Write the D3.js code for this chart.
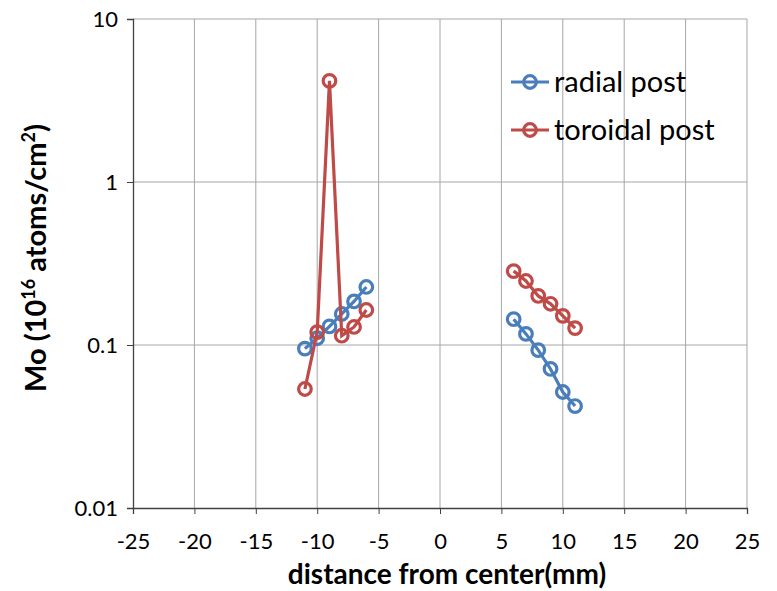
<!DOCTYPE html>
<html><head><meta charset="utf-8">
<script src="https://cdn.jsdelivr.net/npm/d3@7"></script>
<style>body{margin:0;background:#fff}svg{display:block}text{font-family:Lato,"Open Sans",sans-serif}</style>
</head><body><svg id="c" width="777" height="591"></svg>
<script>
const xValues = [-11, -10, -9, -8, -7, -6, 6, 7, 8, 9, 10, 11];
const radialPost = [0.095, 0.11, 0.13, 0.155, 0.185, 0.227, 0.144, 0.117, 0.093, 0.0713, 0.0515, 0.0422];
const toroidalPost = [0.0537, 0.12, 4.17, 0.114, 0.129, 0.164, 0.284, 0.247, 0.2, 0.179, 0.151, 0.127];
const seriesNames = ["radial post", "toroidal post"];
const seriesColors = ["#4A7EBB", "#BE4B48"];
const xTicks = [-25, -20, -15, -10, -5, 0, 5, 10, 15, 20, 25];
const yTicks = [0.01, 0.1, 1, 10];

const svg = d3.select("#c");
const L = 133, R = 747, T = 19, B = 508;
const x = d3.scaleLinear().domain([-25, 25]).range([L, R]);
const y = d3.scaleLog().domain([0.01, 10]).range([B, T]);

// grid
svg.append("g").selectAll("line").data(xTicks.filter(d => d !== -25)).join("line")
  .attr("x1", d => x(d)).attr("x2", d => x(d)).attr("y1", T).attr("y2", B)
  .attr("stroke", "#a6a6a6").attr("stroke-width", 1);
svg.append("g").selectAll("line").data(yTicks.filter(d => d !== 0.01)).join("line")
  .attr("x1", L).attr("x2", R).attr("y1", d => y(d)).attr("y2", d => y(d))
  .attr("stroke", "#a6a6a6").attr("stroke-width", 1);

// axes
const xAxis = d3.axisBottom(x).tickValues(xTicks).tickSize(6).tickPadding(19).tickFormat(d => String(d));
const gx = svg.append("g").attr("transform", `translate(0,${B})`).call(xAxis);
gx.select(".domain").attr("stroke", "#404040").attr("stroke-width", 1.3);
gx.selectAll(".tick line").attr("stroke", "#404040");
gx.selectAll("text").attr("font-size", 22).attr("fill", "#000").attr("font-family", "Lato, 'Open Sans', sans-serif");

const yAxis = d3.axisLeft(y).tickValues(yTicks).tickSize(6).tickPadding(9).tickFormat(d => String(d));
const gy = svg.append("g").attr("transform", `translate(${L},0)`).call(yAxis);
gy.select(".domain").attr("stroke", "#404040").attr("stroke-width", 1.3);
gy.selectAll(".tick line").attr("stroke", "#404040");
gy.selectAll("text").attr("font-size", 22).attr("fill", "#000").attr("font-family", "Lato, 'Open Sans', sans-serif");

// series
const series = [radialPost, toroidalPost];
series.forEach((vals, si) => {
  const pts = xValues.map((xv, i) => ({x: xv, y: vals[i]}));
  const segs = [pts.filter(p => p.x < 0), pts.filter(p => p.x > 0)];
  const line = d3.line().x(d => x(d.x)).y(d => y(d.y));
  const g = svg.append("g");
  segs.forEach(s => g.append("path").attr("d", line(s)).attr("fill", "none")
    .attr("stroke", seriesColors[si]).attr("stroke-width", 3.2));
  g.selectAll("circle").data(pts).join("circle")
    .attr("cx", d => x(d.x)).attr("cy", d => y(d.y)).attr("r", 6.3)
    .attr("fill", "none").attr("stroke", seriesColors[si]).attr("stroke-width", 3.2);
});

// legend
seriesNames.forEach((n, i) => {
  const ly = 82 + i * 48;
  const g = svg.append("g");
  g.append("line").attr("x1", 511).attr("x2", 549).attr("y1", ly).attr("y2", ly)
    .attr("stroke", seriesColors[i]).attr("stroke-width", 3.2);
  g.append("circle").attr("cx", 530).attr("cy", ly).attr("r", 6.3).attr("fill", "none")
    .attr("stroke", seriesColors[i]).attr("stroke-width", 3.2);
  g.append("text").attr("x", 554).attr("y", ly + 10).attr("font-size", 29).attr("fill", "#000").text(n);
});

// titles
svg.append("text").attr("x", (L + R) / 2 + 7).attr("y", 584).attr("text-anchor", "middle")
  .attr("font-size", 28).attr("font-weight", "bold").text("distance from center(mm)");
const yt = svg.append("text").attr("transform", `translate(46,258) rotate(-90)`)
  .attr("text-anchor", "middle").attr("font-size", 29).attr("font-weight", "bold");
yt.append("tspan").text("Mo (10");
yt.append("tspan").attr("font-size", 18).attr("dy", -11).text("16");
yt.append("tspan").attr("dy", 11).text(" atoms/cm");
yt.append("tspan").attr("font-size", 18).attr("dy", -11).text("2");
yt.append("tspan").attr("dy", 11).text(")");
</script></body></html>
